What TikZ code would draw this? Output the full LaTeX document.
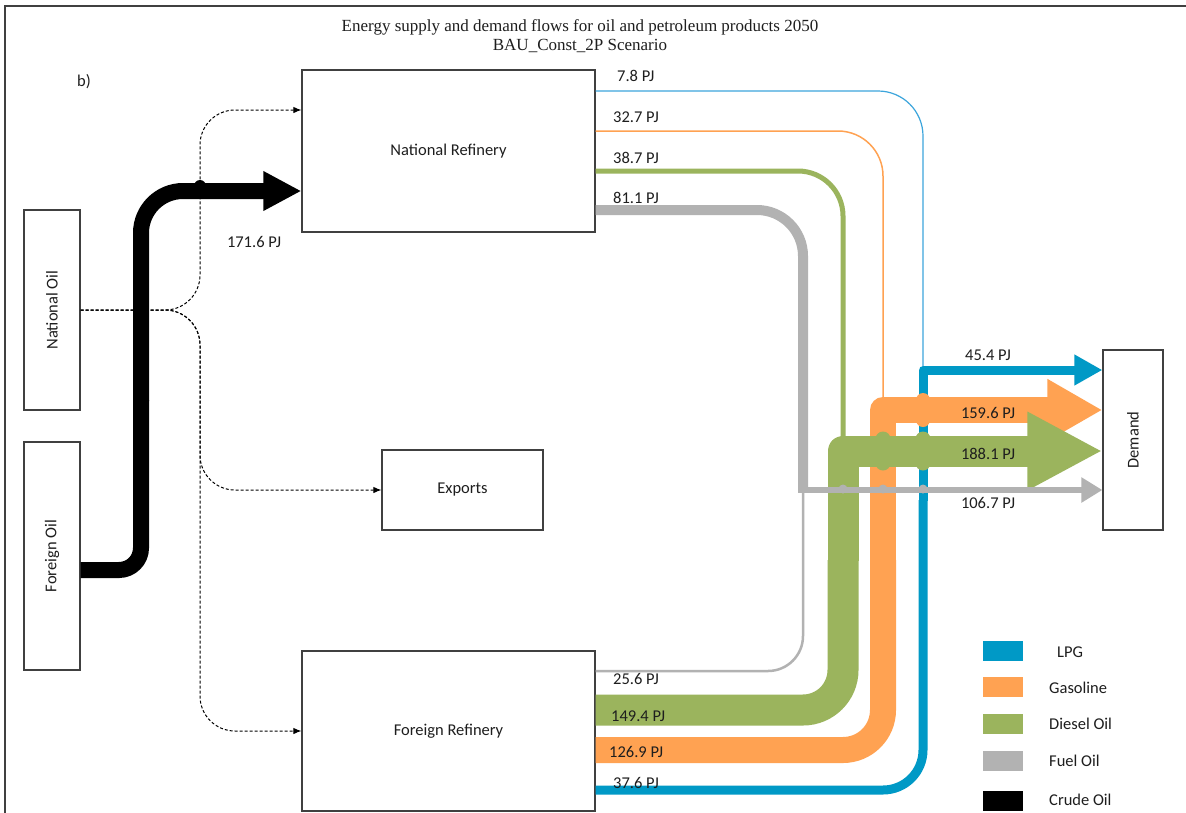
\documentclass[tikz,border=0pt]{standalone}
\usepackage{graphicx}
\usepackage{fontspec}
\setmainfont{Carlito}
\newfontfamily\titlefont{Liberation Serif}
\usetikzlibrary{arrows.meta}
\definecolor{lpgc}{RGB}{0,153,198}
\definecolor{lpgl}{RGB}{60,165,220}
\definecolor{gasc}{RGB}{255,162,82}
\definecolor{dslc}{RGB}{155,180,93}
\definecolor{fuelc}{RGB}{178,178,178}
\definecolor{boxc}{RGB}{64,64,64}
\definecolor{txtc}{RGB}{30,30,30}
\tikzset{
  box/.style={draw=boxc, line width=1.2pt, fill=white, inner sep=0pt, text=txtc, font=\fontsize{16.5}{19}\selectfont},
  lbl/.style={inner sep=0pt, text=txtc, font=\fontsize{16.5}{19}\selectfont},
  dashflow/.style={draw=black, line width=1pt, dash pattern=on 3pt off 2pt, rounded corners=35pt, -{Latex[length=8pt,width=6.5pt]}},
  swatch/.style={minimum width=40pt, minimum height=20pt, inner sep=0pt},
}
\begin{document}
\begin{tikzpicture}[x=1pt,y=-1pt]
\useasboundingbox (0,0) rectangle (1186,812);
\clip (0,0) rectangle (1186,812);
\fill[white] (0,0) rectangle (1186,812);
\draw[boxc, line width=1.2pt] (5,6) rectangle (1250,900);

% title
\node[font=\titlefont\fontsize{17}{19}\selectfont, align=center, inner sep=0pt, text=txtc] (title) at (580,36.5)
  {Energy supply and demand flows for oil and petroleum products 2050\\BAU\_Const\_2P Scenario};
\node[lbl] (bl) at (84,82) {b)};

% boxes
\node[box, minimum width=293pt, minimum height=162pt] (NR) at (448.5,151) {National Refinery};
\node[box, minimum width=293pt, minimum height=160pt] (FR) at (448.5,731) {Foreign Refinery};
\node[box, minimum width=56pt, minimum height=200pt] (NO) at (52,310) {\rotatebox{90}{National Oil}};
\node[box, minimum width=56pt, minimum height=228pt] (FO) at (52,556) {\rotatebox{90}{Foreign Oil}};
\node[box, minimum width=161pt, minimum height=80pt] (EX) at (462.5,490) {Exports};
\node[box, minimum width=60pt, minimum height=180pt] (DE) at (1133,440) {\rotatebox{90}{Demand}};

% junction coordinates
\coordinate (jL) at (923,370);
\coordinate (jG) at (883,410);
\coordinate (jD) at (843,451);
\coordinate (jF) at (803,490);

% national oil dashed flows
\draw[dashflow] (NO.east) -| (200,200) |- (NR.west |- 0,110);
\draw[dashflow] (NO.east) -| (200,400) |- (EX.west);
\draw[dashflow] (NO.east) -| (200,600) |- (FR.west);

% crude oil
\draw[black, line width=16pt, rounded corners=22pt] (FO.east |- 0,570) -| (141,400);
\draw[black, line width=16pt, rounded corners=42pt, -{Triangle[length=38pt,width=37pt]}] (141,401) |- (NR.west |- 0,191);
\fill[black] (200,186) circle (6pt);
\node[lbl] (lc) at (254,242) {171.6 PJ};

% LPG
\draw[lpgl, line width=1.2pt, rounded corners=45pt] (NR.east |- 0,91) -| (jL);
\draw[lpgc, line width=9pt, rounded corners=40pt] (FR.east |- 0,790) -| (923,500);
\draw[lpgc, line width=9pt, line join=round, -{Triangle[length=28pt,width=29pt]}] (923,501) |- (DE.west |- jL);

% Gasoline
\draw[gasc, line width=1.5pt, rounded corners=45pt] (NR.east |- 0,131) -| (jG);
\draw[gasc, line width=26pt, rounded corners=40pt] (FR.east |- 0,750) -| (883,560);
\draw[gasc, line width=26pt, line join=round, -{Triangle[length=55pt,width=58pt]}] (883,561) |- (DE.west |- jG);
\fill[gasc] (923,400) circle (7pt);
\fill[gasc] (923,420) circle (7pt);

% Diesel
\draw[dslc, line width=5pt, rounded corners=45pt] (NR.east |- 0,171) -| (jD);
\draw[dslc, line width=31pt, rounded corners=40pt] (FR.east |- 0,710) -| (843,560);
\draw[dslc, line width=31pt, line join=round, -{Triangle[length=75pt,width=73pt]}] (843,561) |- (DE.west |- jD);
\fill[dslc] (883,439) circle (7.5pt);
\fill[dslc] (923,439) circle (7.5pt);
\fill[dslc] (883,463) circle (7.5pt);
\fill[dslc] (923,463) circle (7.5pt);

% Fuel oil
\draw[fuelc, line width=10pt, rounded corners=46pt] (NR.east |- 0,210) -| (jF);
\draw[fuelc, line width=2.5pt, rounded corners=35pt] (FR.east |- 0,671) -| (jF);
\draw[fuelc, line width=6.5pt, -{Triangle[length=21pt,width=24pt]}] ([xshift=-5pt]jF) -- (DE.west |- jF);
\fill[fuelc] (843,489) circle (4.5pt);
\fill[fuelc] (883,489) circle (4.5pt);
\fill[fuelc] (923,489) circle (4.5pt);

% flow labels
\node[lbl, anchor=west] (n1) at (617,76) {7.8 PJ};
\node[lbl, anchor=west] (n2) at (613,117) {32.7 PJ};
\node[lbl, anchor=west] (n3) at (613,158) {38.7 PJ};
\node[lbl, anchor=west] (n4) at (613,198) {81.1 PJ};
\node[lbl, anchor=west] (f1) at (613,679) {25.6 PJ};
\node[lbl, anchor=west] (f2) at (611,716) {149.4 PJ};
\node[lbl, anchor=west] (f3) at (609,752) {126.9 PJ};
\node[lbl, anchor=west] (f4) at (613,783) {37.6 PJ};
\node[lbl] (d1) at (988,355) {45.4 PJ};
\node[lbl] (d2) at (988,413) {159.6 PJ};
\node[lbl] (d3) at (988,454) {188.1 PJ};
\node[lbl] (d4) at (988,503) {106.7 PJ};

% legend
\node[swatch, fill=lpgc] (k1) at (1003,651) {};
\node[swatch, fill=gasc] (k2) at (1003,687) {};
\node[swatch, fill=dslc] (k3) at (1003,724) {};
\node[swatch, fill=fuelc] (k4) at (1003,761) {};
\node[swatch, fill=black] (k5) at (1003,801) {};
\node[lbl, anchor=west] (t1) at (1057,652) {LPG};
\node[lbl, anchor=west] (t2) at (1049,688) {Gasoline};
\node[lbl, anchor=west] (t3) at (1049,724) {Diesel Oil};
\node[lbl, anchor=west] (t4) at (1049,761) {Fuel Oil};
\node[lbl, anchor=west] (t5) at (1049,800) {Crude Oil};
\end{tikzpicture}
\end{document}
